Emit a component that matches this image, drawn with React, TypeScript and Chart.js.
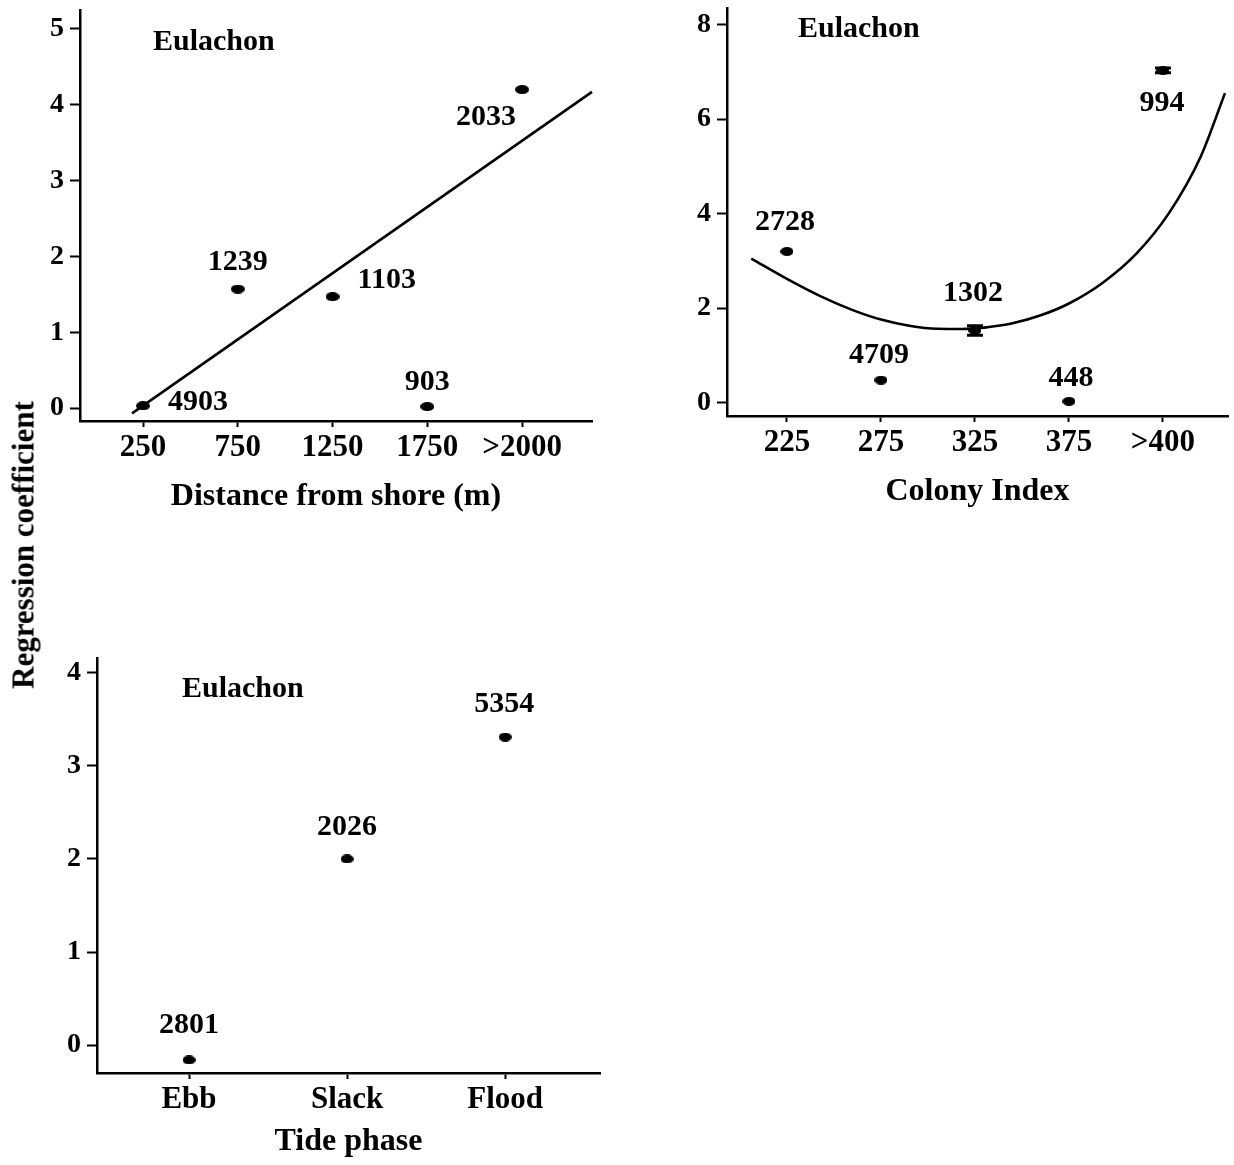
import React, { useEffect, useRef } from 'react';
import { Chart, registerables } from 'chart.js';

Chart.register(...registerables);

const FONT = '"Liberation Serif", "Times New Roman", Times, serif';

// ---------- Panel 1: Distance from shore ----------
const distanceValues = [250, 750, 1250, 1750, 2250];
const distanceTickLabels = ['250', '750', '1250', '1750', '>2000'];
const distanceCoef = [0.03, 1.57, 1.47, 0.02, 4.2];
const distanceCounts = ['4903', '1239', '1103', '903', '2033'];
const distanceFitX = [192, 2619];
const distanceFitY = [-0.07, 4.17];
const distanceYTicks = [0, 1, 2, 3, 4, 5];

// ---------- Panel 2: Colony index ----------
const colonyValues = [225, 275, 325, 375, 425];
const colonyTickLabels = ['225', '275', '325', '375', '>400'];
const colonyCoef = [3.2, 0.48, 1.53, 0.03, 7.03];
const colonyErr = [0, 0, 0.1, 0, 0.05];
const colonyCounts = ['2728', '4709', '1302', '448', '994'];
const colonyCurveX = [206, 225, 243, 260, 275, 290, 305, 318, 330, 345, 360, 375, 393, 411, 428, 445, 458];
const colonyCurveY = [3.05, 2.62, 2.25, 1.96, 1.76, 1.63, 1.565, 1.56, 1.59, 1.68, 1.85, 2.1, 2.54, 3.16, 4.0, 5.2, 6.55];
const colonyYTicks = [0, 2, 4, 6, 8];

// ---------- Panel 3: Tide phase ----------
const tidePhases = ['Ebb', 'Slack', 'Flood'];
const tideCoef = [-0.16, 2.0, 3.31];
const tideCounts = ['2801', '2026', '5354'];
const tideYTicks = [0, 1, 2, 3, 4];

const panelTitle = 'Eulachon';
const yAxisTitle = 'Regression coefficient';

function makeMarker(w: number, h: number) {
  const c = document.createElement('canvas');
  c.width = w;
  c.height = h;
  const g = c.getContext('2d')!;
  g.fillStyle = '#000';
  g.beginPath();
  g.ellipse(w / 2, h / 2, w / 2, h / 2, 0, 0, Math.PI * 2);
  g.fill();
  return c;
}

const annotPlugin = {
  id: 'annot',
  afterDatasetsDraw(chart: any, _args: any, opts: any) {
    const { ctx, chartArea } = chart;
    const xS = chart.scales.x;
    const yS = chart.scales.y;
    ctx.save();
    ctx.fillStyle = '#000';
    ctx.strokeStyle = '#000';
    const pts = opts.points || [];
    const errs = opts.errs || [];
    pts.forEach((p: any, i: number) => {
      const e = errs[i] || 0;
      if (e > 0) {
        const px = xS.getPixelForValue(p.x);
        const y1 = yS.getPixelForValue(p.y - e);
        const y2 = yS.getPixelForValue(p.y + e);
        ctx.lineWidth = 3;
        ctx.beginPath();
        ctx.moveTo(px, y1);
        ctx.lineTo(px, y2);
        ctx.moveTo(px - 8, y1);
        ctx.lineTo(px + 8, y1);
        ctx.moveTo(px - 8, y2);
        ctx.lineTo(px + 8, y2);
        ctx.stroke();
      }
    });
    ctx.font = `bold 30px ${FONT}`;
    ctx.textBaseline = 'middle';
    ctx.textAlign = 'left';
    ctx.fillText(panelTitle, chartArea.left + opts.titleDx, chartArea.top + opts.titleDy);
    const labels = opts.labels || [];
    const offs = opts.offsets || [];
    pts.forEach((p: any, i: number) => {
      const px = xS.getPixelForValue(p.x);
      const py = yS.getPixelForValue(p.y);
      const o = offs[i];
      ctx.textAlign = o[2];
      ctx.fillText(labels[i], px + o[0], py + o[1]);
    });
    ctx.restore();
  },
};

interface PanelSpec {
  width: number;
  height: number;
  padding: { left: number; right: number; top: number; bottom: number };
  yWidth: number;
  xHeight: number;
  xMin: number;
  xMax: number;
  yMin: number;
  yMax: number;
  xTicks: number[];
  xTickLabels: string[];
  yTicks: number[];
  xTitle: string;
  xTitlePad: number;
  points: { x: number; y: number }[];
  lines: { x: number; y: number }[][];
  lineTension: number;
  labels: string[];
  offsets: [number, number, string][];
  errs?: number[];
  titleDx: number;
  titleDy: number;
  marker: [number, number];
}

function buildConfig(s: PanelSpec): any {
  const datasets: any[] = [
    {
      data: s.points,
      showLine: false,
      pointStyle: makeMarker(s.marker[0], s.marker[1]),
      pointRadius: 6,
      backgroundColor: '#000',
      borderColor: '#000',
    },
  ];
  s.lines.forEach((ln) => {
    datasets.push({
      data: ln,
      showLine: true,
      pointRadius: 0,
      borderColor: '#000',
      borderWidth: 2.6,
      tension: s.lineTension,
      cubicInterpolationMode: s.lineTension > 0 ? 'monotone' : 'default',
      clip: false,
    });
  });
  const tickFontY = { family: FONT, size: 28, weight: 'bold' as const };
  const tickFontX = { family: FONT, size: 31, weight: 'bold' as const };
  return {
    type: 'scatter',
    data: { datasets },
    plugins: [annotPlugin],
    options: {
      animation: false,
      responsive: false,
      maintainAspectRatio: false,
      events: [],
      layout: { padding: s.padding, autoPadding: false },
      plugins: {
        legend: { display: false },
        tooltip: { enabled: false },
        title: { display: false },
        annot: {
          points: s.points,
          labels: s.labels,
          offsets: s.offsets,
          errs: s.errs,
          titleDx: s.titleDx,
          titleDy: s.titleDy,
        },
      },
      scales: {
        x: {
          type: 'linear',
          position: 'bottom',
          min: s.xMin,
          max: s.xMax,
          afterBuildTicks: (sc: any) => {
            sc.ticks = s.xTicks.map((v) => ({ value: v }));
          },
          afterFit: (sc: any) => {
            sc.height = s.xHeight;
            sc.paddingLeft = 0;
            sc.paddingRight = 0;
          },
          grid: {
            display: true,
            drawOnChartArea: false,
            drawTicks: true,
            tickLength: 6,
            tickWidth: 2,
            tickColor: '#000',
            color: '#000',
          },
          border: { display: true, color: '#000', width: 2.5 },
          ticks: {
            color: '#000',
            font: tickFontX,
            padding: 2,
            maxRotation: 0,
            autoSkip: false,
            callback: (v: number) => {
              const i = s.xTicks.indexOf(v);
              return i >= 0 ? s.xTickLabels[i] : '';
            },
          },
          title: {
            display: true,
            text: s.xTitle,
            color: '#000',
            font: { family: FONT, size: 32, weight: 'bold' },
            padding: { top: 0, bottom: s.xTitlePad },
          },
        },
        y: {
          type: 'linear',
          min: s.yMin,
          max: s.yMax,
          afterBuildTicks: (sc: any) => {
            sc.ticks = s.yTicks.map((v) => ({ value: v }));
          },
          afterFit: (sc: any) => {
            sc.width = s.yWidth;
            sc.paddingTop = 0;
            sc.paddingBottom = 0;
          },
          grid: {
            display: true,
            drawOnChartArea: false,
            drawTicks: true,
            tickLength: 10,
            tickWidth: 2,
            tickColor: '#000',
            color: '#000',
          },
          border: { display: true, color: '#000', width: 2.5 },
          ticks: {
            color: '#000',
            font: tickFontY,
            padding: 6,
            callback: (v: number) => String(v),
          },
        },
      },
    },
  };
}

function Panel({ spec, left, top }: { spec: PanelSpec; left: number; top: number }) {
  const ref = useRef<HTMLCanvasElement | null>(null);
  useEffect(() => {
    if (!ref.current) return;
    const chart = new Chart(ref.current, buildConfig(spec));
    return () => chart.destroy();
  }, []);
  return (
    <canvas
      ref={ref}
      width={spec.width}
      height={spec.height}
      style={{ position: 'absolute', left, top, width: spec.width, height: spec.height }}
    />
  );
}

const panel1: PanelSpec = {
  width: 620,
  height: 520,
  padding: { left: 0, right: 28, top: 10, bottom: 0 },
  yWidth: 80,
  xHeight: 99,
  xMin: -82.5,
  xMax: 2619,
  yMin: -0.17,
  yMax: 5.25,
  xTicks: distanceValues,
  xTickLabels: distanceTickLabels,
  yTicks: distanceYTicks,
  xTitle: 'Distance from shore (m)',
  xTitlePad: 4,
  points: distanceValues.map((x, i) => ({ x, y: distanceCoef[i] })),
  lines: [distanceFitX.map((x, i) => ({ x, y: distanceFitY[i] }))],
  lineTension: 0,
  labels: distanceCounts,
  offsets: [
    [25, -4, 'left'],
    [0, -27, 'center'],
    [25, -16, 'left'],
    [0, -24, 'center'],
    [-6, 28, 'right'],
  ],
  titleDx: 73,
  titleDy: 32,
  marker: [14, 9],
};

const panel2: PanelSpec = {
  width: 594,
  height: 520,
  padding: { left: 0, right: 6, top: 8, bottom: 0 },
  yWidth: 87,
  xHeight: 104,
  xMin: 193.1,
  xMax: 459.6,
  yMin: -0.28,
  yMax: 8.35,
  xTicks: colonyValues,
  xTickLabels: colonyTickLabels,
  yTicks: colonyYTicks,
  xTitle: 'Colony Index',
  xTitlePad: 9,
  points: colonyValues.map((x, i) => ({ x, y: colonyCoef[i] })),
  lines: [colonyCurveX.map((x, i) => ({ x, y: colonyCurveY[i] }))],
  lineTension: 0.4,
  labels: colonyCounts,
  offsets: [
    [-2, -29, 'center'],
    [-2, -25, 'center'],
    [-2, -37, 'center'],
    [2, -23, 'center'],
    [-1, 33, 'center'],
  ],
  errs: colonyErr,
  titleDx: 71,
  titleDy: 21,
  marker: [13, 9],
};

const panel3: PanelSpec = {
  width: 640,
  height: 535,
  padding: { left: 0, right: 40, top: 28, bottom: 0 },
  yWidth: 97,
  xHeight: 92,
  xMin: 0.418,
  xMax: 3.6,
  yMin: -0.3,
  yMax: 4.16,
  xTicks: tidePhases.map((_, i) => i + 1),
  xTickLabels: tidePhases,
  yTicks: tideYTicks,
  xTitle: 'Tide phase',
  xTitlePad: 4,
  points: tidePhases.map((_, i) => ({ x: i + 1, y: tideCoef[i] })),
  lines: [],
  lineTension: 0,
  labels: tideCounts,
  offsets: [
    [0, -35, 'center'],
    [0, -32, 'center'],
    [-1, -33, 'center'],
  ],
  titleDx: 85,
  titleDy: 31,
  marker: [13, 9],
};

export default function App() {
  return (
    <div
      style={{
        position: 'absolute',
        left: 0,
        top: 0,
        width: 1234,
        height: 1165,
        background: '#fff',
        overflow: 'hidden',
      }}
    >
      <Panel spec={panel1} left={0} top={0} />
      <Panel spec={panel2} left={640} top={0} />
      <Panel spec={panel3} left={0} top={630} />
      <div
        style={{
          position: 'absolute',
          left: 23,
          top: 545,
          transform: 'translate(-50%, -50%) rotate(-90deg)',
          whiteSpace: 'nowrap',
          fontFamily: FONT,
          fontWeight: 'bold',
          fontSize: 31,
          lineHeight: 1,
          color: '#000',
        }}
      >
        {yAxisTitle}
      </div>
    </div>
  );
}
